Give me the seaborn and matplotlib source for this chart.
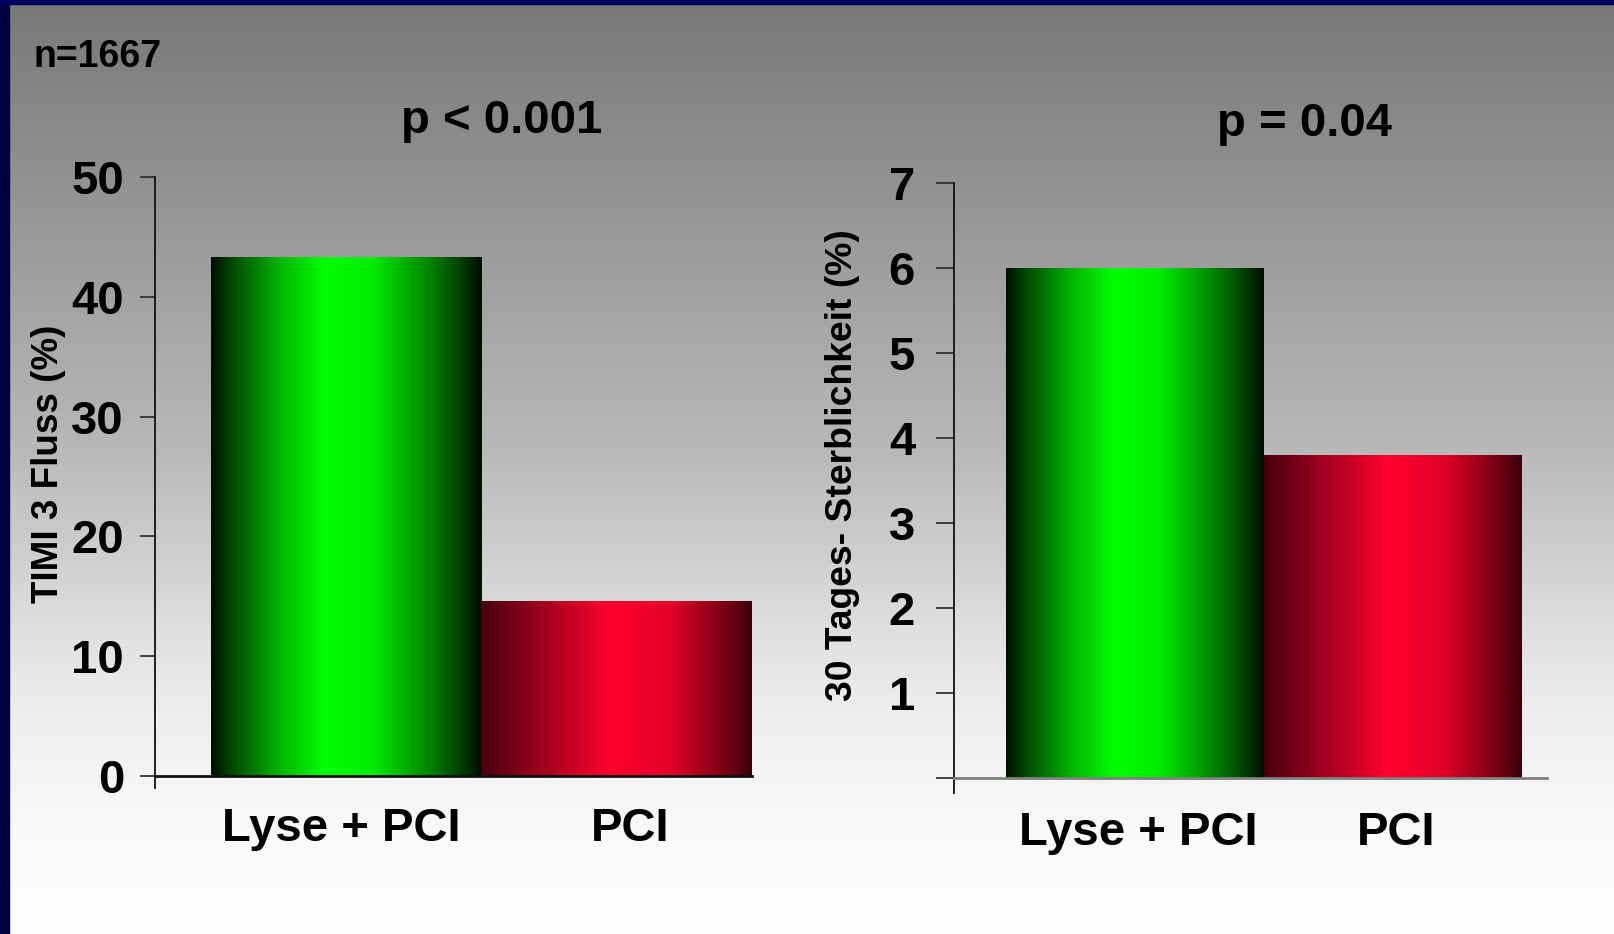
import numpy as np
import pandas as pd
import matplotlib
matplotlib.use("Agg")
import matplotlib.pyplot as plt
from matplotlib.patches import Rectangle
from matplotlib.transforms import ScaledTranslation
import seaborn as sns

# Data
groups = ["Lyse + PCI", "PCI"]
timi3_flow = [43.3, 14.6]          # TIMI 3 Fluss (%)
mortality_30d = [6.0, 3.8]         # 30 Tages-Sterblichkeit (%)
left_ticks = [0, 10, 20, 30, 40, 50]
right_ticks = [0, 1, 2, 3, 4, 5, 6, 7]
right_ticklabels = ["", "1", "2", "3", "4", "5", "6", "7"]
p_left = "p < 0.001"
p_right = "p = 0.04"
n_text = "n=1667"

sns.set_theme(style="white")
plt.rcParams["font.family"] = ["Liberation Sans", "DejaVu Sans"]
plt.rcParams["font.weight"] = "bold"

W, H = 1615, 934
DPI = 100
fig = plt.figure(figsize=(W / DPI, H / DPI), dpi=DPI)


def fx(px):
    return px / W


def fy(py):
    return 1 - py / H


# Vertical grey-to-white background
bg = fig.add_axes([0, 0, 1, 1], zorder=-10)
pos = np.linspace(0, 1, 400)
shade = np.interp(pos, [0, 0.3, 0.48, 0.68, 0.75, 0.9, 1.0],
                  [120, 160, 184, 224, 236, 250, 254]) / 255
bg.imshow(np.stack([shade, shade, shade], axis=-1)[:, None, :],
          extent=[0, 1, 0, 1], aspect="auto", origin="upper")
bg.set_axis_off()

# Navy frame on the left and top edges
fig.patches.append(Rectangle((0, 0), fx(9), 1, transform=fig.transFigure,
                             color="#00003f", zorder=5))
fig.patches.append(Rectangle((0, fy(4)), 1, 4 / H, transform=fig.transFigure,
                             color="#000062", zorder=5))


def ramp(stops, colors, n=256):
    xs = np.linspace(0, 1, n)
    cols = np.array(colors) / 255
    rgb = np.stack([np.interp(xs, stops, cols[:, c]) for c in range(3)], axis=-1)
    return rgb[None, :, :]


green_grad = ramp([0, 0.08, 0.25, 0.42, 0.6, 0.82, 1.0],
                  [(0, 15, 0), (0, 75, 0), (0, 180, 0), (0, 255, 0),
                   (0, 235, 0), (0, 125, 0), (0, 15, 0)])
red_grad = ramp([0, 0.2, 0.48, 0.7, 0.9, 1.0],
                [(70, 0, 12), (150, 0, 30), (255, 0, 45), (225, 0, 40),
                 (120, 0, 20), (60, 0, 10)])


def shade_bars(ax):
    xl, yl = ax.get_xlim(), ax.get_ylim()
    for patch, grad in zip(ax.patches, [green_grad, red_grad]):
        x0 = patch.get_x()
        x1 = x0 + patch.get_width()
        h = patch.get_height()
        im = ax.imshow(grad, extent=[x0, x1, 0, h], aspect="auto",
                       zorder=2, interpolation="bilinear")
        im.set_clip_path(patch)
        patch.set_facecolor("none")
        patch.set_edgecolor("none")
    ax.set_xlim(xl)
    ax.set_ylim(yl)


def style_axis(ax, spine_low, bottom_color, tick_len, tick_pad):
    ax.set_facecolor("none")
    for s in ["top", "right"]:
        ax.spines[s].set_visible(False)
    ax.spines["left"].set_color("#111111")
    ax.spines["left"].set_linewidth(1.3)
    ax.spines["left"].set_bounds(spine_low, ax.get_ylim()[1])
    ax.spines["bottom"].set_color(bottom_color)
    ax.spines["bottom"].set_linewidth(2)
    ax.tick_params(axis="y", left=True, length=tick_len, width=1.3,
                   color="#333333", pad=tick_pad, labelsize=34)
    ax.tick_params(axis="x", bottom=False, labelsize=34)
    for lab in ax.get_yticklabels() + ax.get_xticklabels():
        lab.set_fontweight("bold")
        lab.set_color("black")
    ax.set_xlabel("")


def nudge_xlabels(ax, shifts_px):
    for lab, dx in zip(ax.get_xticklabels(), shifts_px):
        lab.set_transform(lab.get_transform() +
                          ScaledTranslation(dx / DPI, 0, fig.dpi_scale_trans))


# Left panel: TIMI 3 flow
axL = fig.add_axes([fx(155), 1 - 776 / H, (752 - 155) / W, (776 - 177) / H])
sns.barplot(x=groups, y=timi3_flow, ax=axL, width=1.0, color="#00ff00")
axL.set_ylim(0, 50)
axL.set_xlim(-0.7066, 1.5)
axL.set_yticks(left_ticks)
axL.set_yticklabels([str(t) for t in left_ticks])
style_axis(axL, -1.0, "#111111", 10.8, 11.5)
axL.tick_params(axis="x", pad=16)
nudge_xlabels(axL, [-5, 13])
axL.set_ylabel("TIMI 3 Fluss (%)", fontsize=26.5, fontweight="bold", color="black")
axL.yaxis.label.set_va("center")
axL.yaxis.set_label_coords((48 - 155) / 597, (776 - 463.5) / 599)
shade_bars(axL)

# Right panel: 30-day mortality
axR = fig.add_axes([fx(954), 1 - 778 / H, (1547 - 954) / W, (778 - 183) / H])
sns.barplot(x=groups, y=mortality_30d, ax=axR, width=1.0, color="#ff0030")
axR.set_ylim(0, 7)
axR.set_xlim(-0.7016, 1.597)
axR.set_yticks(right_ticks)
axR.set_yticklabels(right_ticklabels)
style_axis(axR, -0.18, "#7f7f7f", 13, 15)
axR.tick_params(axis="x", pad=18)
nudge_xlabels(axR, [3, 3])
axR.set_ylabel("30 Tages- Sterblichkeit (%)", fontsize=26.8, fontweight="bold",
               color="black")
axR.yaxis.label.set_va("center")
axR.yaxis.set_label_coords((843 - 954) / 593, (778 - 465.6) / 595)
shade_bars(axR)

# Annotations
fig.text(fx(34), fy(57), n_text, ha="left", va="center", fontsize=27,
         fontweight="bold", color="black")
fig.text(fx(502), fy(121), p_left, ha="center", va="center", fontsize=34,
         fontweight="bold", color="black")
fig.text(fx(1305), fy(124), p_right, ha="center", va="center", fontsize=34,
         fontweight="bold", color="black")

fig.savefig("out.png", dpi=DPI)
